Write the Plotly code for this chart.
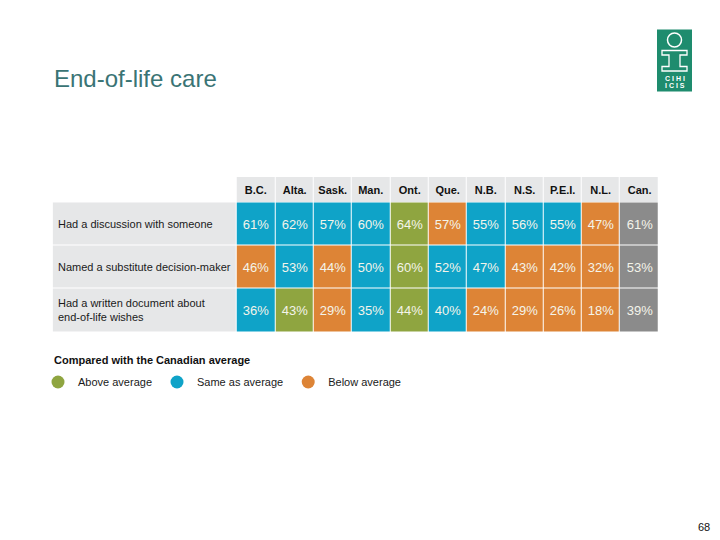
import plotly.graph_objects as go

# ---------------- data ----------------
provinces = ["B.C.", "Alta.", "Sask.", "Man.", "Ont.", "Que.", "N.B.", "N.S.", "P.E.I.", "N.L.", "Can."]
indicators = [
    "Had a discussion with someone",
    "Named a substitute decision-maker",
    "Had a written document about<br>end-of-life wishes",
]
discussion = [61, 62, 57, 60, 64, 57, 55, 56, 55, 47, 61]
substitute = [46, 53, 44, 50, 60, 52, 47, 43, 42, 32, 53]
written = [36, 43, 29, 35, 44, 40, 24, 29, 26, 18, 39]

# comparison with Canadian average: A = above, S = same, B = below, C = Canada
cmp_discussion = ["S", "S", "S", "S", "A", "B", "S", "S", "S", "B", "C"]
cmp_substitute = ["B", "S", "B", "S", "A", "S", "S", "B", "B", "B", "C"]
cmp_written = ["S", "A", "B", "S", "A", "S", "B", "B", "B", "B", "C"]

legend_title = "Compared with the Canadian average"
legend_labels = ["Above average", "Same as average", "Below average"]
legend_codes = ["A", "S", "B"]

# ---------------- styles ----------------
W, H = 720, 540
FONT = "Liberation Sans, Arial, sans-serif"
COLORS = {"L": "#e6e7e8", "A": "#8fa540", "S": "#0fa3c8", "B": "#dd8436", "C": "#8b8b8b"}
CODE_ORDER = ["L", "A", "S", "B", "C"]
HEADER_BG = "#e6e7e8"
CELL_TEXT = "#f4f4ea"

# table geometry (pixels)
TABLE_LEFT, LABEL_RIGHT, TABLE_RIGHT = 52.7, 237.0, 658.5
TABLE_TOP, HEADER_BOTTOM, TABLE_BOTTOM = 177.0, 202.5, 332.0

ncol = len(provinces)
col_px = (TABLE_RIGHT - LABEL_RIGHT) / ncol
label_units = (LABEL_RIGHT - TABLE_LEFT) / col_px
row_px = (TABLE_BOTTOM - HEADER_BOTTOM) / len(indicators)
header_units = (HEADER_BOTTOM - TABLE_TOP) / row_px

x_edges = [0.0, label_units] + [label_units + i + 1 for i in range(ncol)]
total_x = x_edges[-1]
y_body_edges = [header_units + i for i in range(len(indicators) + 1)]
total_y = y_body_edges[-1]


def px_x(v):
    return v / W


def px_y(v):
    return 1 - v / H


values = [discussion, substitute, written]
comps = [cmp_discussion, cmp_substitute, cmp_written]

z_body = []
t_body = []
for vals, cm in zip(values, comps):
    z_body.append([CODE_ORDER.index("L")] + [CODE_ORDER.index(c) for c in cm])
    t_body.append([""] + [f"{v}%" for v in vals])

n = len(CODE_ORDER)
colorscale = []
for i, code in enumerate(CODE_ORDER):
    colorscale.append([i / n, COLORS[code]])
    colorscale.append([(i + 1) / n, COLORS[code]])

fig = go.Figure()

fig.add_trace(go.Heatmap(
    z=z_body, x=x_edges, y=y_body_edges, text=t_body,
    texttemplate="%{text}", textfont=dict(size=13, color=CELL_TEXT, family=FONT),
    colorscale=colorscale, zmin=-0.5, zmax=n - 0.5, showscale=False,
    xgap=1, ygap=1, hoverinfo="skip", showlegend=False,
))

fig.add_trace(go.Heatmap(
    z=[[None] + [0] * ncol], x=x_edges, y=[0, header_units],
    text=[[""] + provinces],
    texttemplate="<b>%{text}</b>", textfont=dict(size=11, color="#111111", family=FONT),
    colorscale=[[0, HEADER_BG], [1, HEADER_BG]], zmin=0, zmax=1, showscale=False,
    xgap=1, ygap=1, hoverinfo="skip", showlegend=False,
))

# legend entries
for lab, code in zip(legend_labels, legend_codes):
    fig.add_trace(go.Scatter(
        x=[None], y=[None], mode="markers", name=lab,
        marker=dict(size=13, color=COLORS[code], symbol="circle"),
        showlegend=True, hoverinfo="skip",
    ))

annotations = []
for i, lab in enumerate(indicators):
    annotations.append(dict(
        x=0, y=header_units + i + 0.5, xref="x", yref="y", text=lab,
        xanchor="left", yanchor="middle", align="left", xshift=3, showarrow=False,
        font=dict(size=11, color="#1a1a1a", family=FONT),
    ))

# legend title
annotations.append(dict(x=px_x(52), y=px_y(360), xref="paper", yref="paper",
                        text=f"<b>{legend_title}</b>", xanchor="left", yanchor="middle",
                        showarrow=False, font=dict(size=11, color="#111111", family=FONT)))

# page number
annotations.append(dict(x=px_x(712), y=px_y(527), xref="paper", yref="paper", text="68",
                        xanchor="right", yanchor="middle", showarrow=False,
                        font=dict(size=11, color="#111111", family=FONT)))

# logo text
annotations.append(dict(x=px_x(674.5), y=px_y(78.5), xref="paper", yref="paper", text="<b>C I H I</b>",
                        xanchor="center", yanchor="middle", showarrow=False,
                        font=dict(size=7, color="white", family=FONT)))
annotations.append(dict(x=px_x(674.5), y=px_y(85.5), xref="paper", yref="paper", text="<b>I C I S</b>",
                        xanchor="center", yanchor="middle", showarrow=False,
                        font=dict(size=7, color="white", family=FONT)))

# logo shapes
beam = [(662, 50.5), (687, 50.5), (687, 55), (680, 55), (680, 66.5), (687, 66.5), (687, 71),
        (662, 71), (662, 66.5), (669, 66.5), (669, 55), (662, 55)]
path = "M " + " L ".join(f"{px_x(a):.5f},{px_y(b):.5f}" for a, b in beam) + " Z"
shapes = [
    dict(type="rect", xref="paper", yref="paper", x0=px_x(657), x1=px_x(692), y0=px_y(91.5), y1=px_y(29.5),
         fillcolor="#1e8c6e", line=dict(width=0), layer="above"),
    dict(type="circle", xref="paper", yref="paper", x0=px_x(667.5), x1=px_x(681.5), y0=px_y(47), y1=px_y(33),
         line=dict(color="white", width=1.5), layer="above"),
    dict(type="path", xref="paper", yref="paper", path=path,
         line=dict(color="white", width=1.3), layer="above"),
]

fig.update_layout(
    width=W, height=H,
    margin=dict(l=0, r=0, t=0, b=0),
    paper_bgcolor="white", plot_bgcolor="white",
    font=dict(family=FONT, size=11, color="#1a1a1a"),
    title=dict(text="End-of-life care", x=px_x(54), xanchor="left", xref="paper",
               y=px_y(79), yanchor="middle", yref="paper",
               font=dict(size=24, color="#3a7475", family=FONT)),
    xaxis=dict(range=[0, total_x], domain=[px_x(TABLE_LEFT), px_x(TABLE_RIGHT)],
               visible=False, fixedrange=True),
    yaxis=dict(range=[total_y, 0], domain=[px_y(TABLE_BOTTOM), px_y(TABLE_TOP)],
               visible=False, fixedrange=True),
    legend=dict(orientation="h", x=px_x(38), y=px_y(382), xanchor="left", yanchor="middle",
                font=dict(size=11, color="#1a1a1a", family=FONT),
                bgcolor="rgba(0,0,0,0)", itemclick=False, itemdoubleclick=False),
    annotations=annotations,
    shapes=shapes,
)

fig.write_html("out.html", config={"displayModeBar": False},
               post_script="document.body.style.margin='0px';")
